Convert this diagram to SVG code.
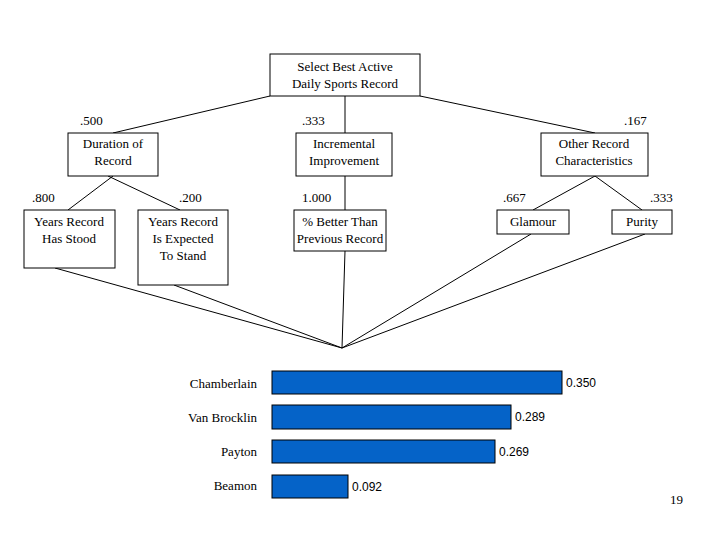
<svg xmlns="http://www.w3.org/2000/svg" width="720" height="540" viewBox="0 0 720 540">
<style>
.b{fill:#fff;stroke:#000;stroke-width:1}
.t{font-family:"Liberation Serif",serif;font-size:13px;text-anchor:middle;fill:#000}
.w{font-family:"Liberation Serif",serif;font-size:13px;fill:#000}
.l{font-family:"Liberation Serif",serif;font-size:13px;text-anchor:end;fill:#000}
.bar{fill:#0563c8;stroke:#000;stroke-width:1}
.v{font-family:"Liberation Sans",sans-serif;font-size:12px;fill:#000}
#c line{stroke:#000;stroke-width:1}
</style>
<rect width="720" height="540" fill="#fff"/>
<g id="c">
<line x1="270" y1="96" x2="113" y2="133"/>
<line x1="345" y1="96" x2="345" y2="133"/>
<line x1="420" y1="96" x2="595" y2="133"/>
<line x1="113" y1="176" x2="68" y2="210"/>
<line x1="108" y1="176" x2="180" y2="210"/>
<line x1="345" y1="176" x2="345" y2="210"/>
<line x1="595" y1="176" x2="533" y2="210"/>
<line x1="595" y1="176" x2="642" y2="210"/>
<line x1="55" y1="268" x2="342" y2="348"/>
<line x1="174" y1="285" x2="342" y2="348"/>
<line x1="345" y1="251" x2="342" y2="348"/>
<line x1="531" y1="234" x2="342" y2="348"/>
<line x1="645" y1="234" x2="342" y2="348"/>
</g>
<g id="root"><rect class="b" x="270" y="54" width="150" height="42"/><text class="t" x="345" y="71">Select Best Active</text><text class="t" x="345" y="88">Daily Sports Record</text></g>
<g id="dur"><rect class="b" x="68" y="133" width="90" height="43"/><text class="t" x="113" y="148">Duration of</text><text class="t" x="113" y="165">Record</text><text class="w" x="80" y="125">.500</text></g>
<g id="inc"><rect class="b" x="296" y="133" width="96" height="43"/><text class="t" x="344" y="148">Incremental</text><text class="t" x="344" y="165">Improvement</text><text class="w" x="302" y="125">.333</text></g>
<g id="oth"><rect class="b" x="541" y="133" width="107" height="43"/><text class="t" x="594" y="148">Other Record</text><text class="t" x="594" y="165">Characteristics</text><text class="w" x="624" y="125">.167</text></g>
<g id="stood"><rect class="b" x="24" y="210" width="91" height="58"/><text class="t" x="69" y="226">Years Record</text><text class="t" x="69" y="243">Has Stood</text><text class="w" x="32" y="202">.800</text></g>
<g id="exp"><rect class="b" x="138" y="210" width="90" height="75"/><text class="t" x="183" y="226">Years Record</text><text class="t" x="183" y="243">Is Expected</text><text class="t" x="183" y="260">To Stand</text><text class="w" x="179" y="202">.200</text></g>
<g id="pct"><rect class="b" x="294" y="210" width="92" height="41"/><text class="t" x="340" y="226">% Better Than</text><text class="t" x="340" y="243">Previous Record</text><text class="w" x="302" y="202">1.000</text></g>
<g id="gla"><rect class="b" x="497" y="210" width="72" height="24"/><text class="t" x="533" y="226">Glamour</text><text class="w" x="503" y="202">.667</text></g>
<g id="pur"><rect class="b" x="612" y="210" width="60" height="24"/><text class="t" x="642" y="226">Purity</text><text class="w" x="650" y="202">.333</text></g>
<g id="chart">
<rect class="bar" x="272" y="371" width="290" height="23"/><text class="l" x="257" y="388">Chamberlain</text><text class="v" x="566" y="387">0.350</text>
<rect class="bar" x="272" y="405" width="239" height="24"/><text class="l" x="257" y="422">Van Brocklin</text><text class="v" x="515" y="421">0.289</text>
<rect class="bar" x="272" y="440" width="223" height="23"/><text class="l" x="257" y="456">Payton</text><text class="v" x="499" y="456">0.269</text>
<rect class="bar" x="272" y="475" width="76" height="23"/><text class="l" x="257" y="490">Beamon</text><text class="v" x="352" y="491">0.092</text>
</g>
<text class="w" x="670" y="504">19</text>
</svg>
